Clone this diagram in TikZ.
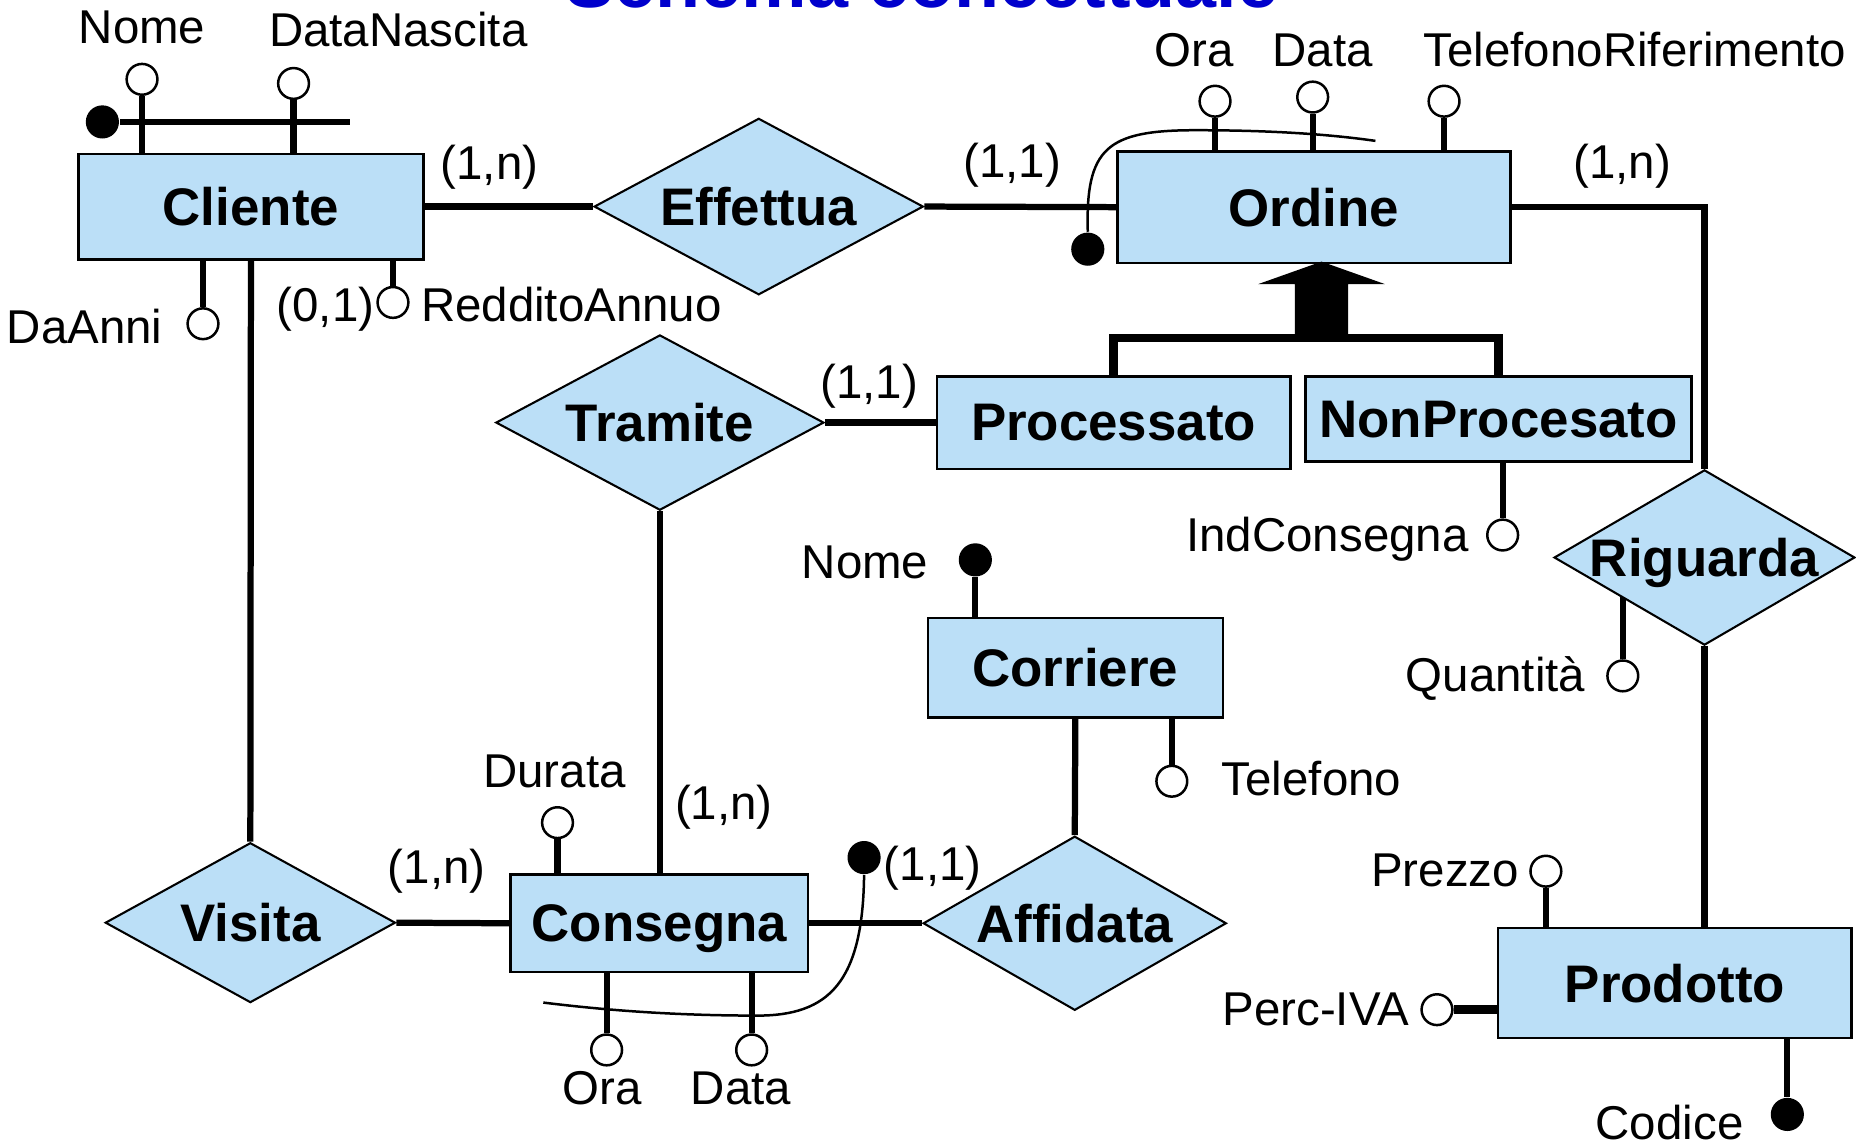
\documentclass[tikz,border=0pt]{standalone}
\usepackage{fontspec}
\setmainfont{Liberation Sans}
\usetikzlibrary{shapes.geometric,backgrounds}

\definecolor{erblue}{RGB}{187,223,247}
\definecolor{titleblue}{RGB}{0,0,204}
\newcommand{\lblfont}{\fontsize{11.4pt}{13pt}\selectfont}
\newcommand{\namefont}{\fontsize{12.7pt}{15pt}\selectfont\bfseries}
\newcommand{\titlefont}{\fontsize{17.7pt}{21pt}\selectfont\bfseries}

\tikzset{
    entity/.style={draw, line width=0.6pt, fill=erblue, font=\namefont, inner sep=0pt, text depth=0pt},
    rname/.style={font=\namefont, inner sep=0pt, text depth=0pt},
    relation/.style={diamond, draw, line width=0.5pt, fill=erblue, inner sep=0pt, label={[rname]center:#1}},
    attr/.style={circle, draw, line width=0.6pt, fill=white, minimum size=0.26cm, inner sep=0pt},
    keyattr/.style={circle, fill=black, minimum size=0.28cm, inner sep=0pt},
    conn/.style={line width=1.5pt},
    thickconn/.style={line width=2.1pt},
    genline/.style={line width=2.1pt},
    idcurve/.style={line width=0.6pt},
    lbl/.style={font=\lblfont, inner sep=0pt},
}

\begin{document}
\begin{tikzpicture}[x=0.01cm, y=-0.01cm]
    \useasboundingbox (0,0) rectangle (1568,969);

    \node[font=\titlefont, text=titleblue, inner sep=0pt, anchor=base] (title) at (779,6) {Schema concettuale};

    \node[entity, minimum width=2.915cm, minimum height=0.89cm] (cliente) at (212,174.5) {Cliente};
    \node[entity, minimum width=3.32cm, minimum height=0.94cm] (ordine) at (1110,175) {Ordine};
    \node[entity, minimum width=2.985cm, minimum height=0.78cm] (processato) at (940.75,357) {Processato};
    \node[entity, minimum width=3.26cm, minimum height=0.72cm] (nonprocesato) at (1266,354) {NonProcesato};
    \node[entity, minimum width=2.49cm, minimum height=0.84cm] (corriere) at (908.5,564) {Corriere};
    \node[entity, minimum width=2.51cm, minimum height=0.82cm] (consegna) at (557,780) {Consegna};
    \node[entity, minimum width=2.985cm, minimum height=0.93cm] (prodotto) at (1415,830.5) {Prodotto};

    \node[relation=Effettua, minimum width=2.78cm, minimum height=1.49cm] (effettua) at (641,174.5) {};
    \node[relation=Tramite, minimum width=2.77cm, minimum height=1.48cm] (tramite) at (557.5,357) {};
    \node[relation=Riguarda, minimum width=2.54cm, minimum height=1.48cm] (riguarda) at (1440,471) {};
    \node[relation=Affidata, minimum width=2.56cm, minimum height=1.47cm] (affidata) at (908,780) {};
    \node[relation=Visita, minimum width=2.45cm, minimum height=1.35cm] (visita) at (211.5,779.5) {};

    \node[attr] (nomecli) at (120,67) {};
    \node[attr] (datacli) at (248,70.5) {};
    \node[keyattr] (idcli) at (86.5,103) {};
    \coordinate (idcliend) at (296,103);
    \node[attr] (daanni) at (171.5,273.5) {};
    \node[attr] (reddito) at (332,255.5) {};
    \node[attr] (oraord) at (1026.5,85.5) {};
    \node[attr] (dataord) at (1109,82) {};
    \node[attr] (telrif) at (1220,85.5) {};
    \node[keyattr] (idord) at (919,210.5) {};
    \coordinate (idordend) at (1162,119);
    \node[attr] (indcons) at (1269.5,452) {};
    \node[attr] (quant) at (1371,571) {};
    \node[keyattr] (nomecorr) at (824,473) {};
    \node[attr] (telcorr) at (990,660) {};
    \node[attr] (durata) at (471,695) {};
    \node[attr] (oracons) at (512.5,887) {};
    \node[attr] (datacons) at (635,887) {};
    \node[keyattr] (idcons) at (730,724.5) {};
    \coordinate (idconsend) at (459,847);
    \node[attr] (prezzo) at (1306,736) {};
    \node[attr] (perciva) at (1214,853) {};
    \node[keyattr] (codice) at (1510,941.5) {};

    \node[lbl, anchor=base] (lnomecli) at (120,36.5) {Nome};
    \node[lbl, anchor=base] (ldatacli) at (336.5,39.5) {DataNascita};
    \node[lbl, anchor=base east] (ldaanni) at (138,290) {DaAnni};
    \node[lbl, anchor=base] (creddito) at (275,272) {(0,1)};
    \node[lbl, anchor=base west] (lreddito) at (355,272) {RedditoAnnuo};
    \node[lbl, anchor=base] (ceffcli) at (413.5,151.5) {(1,n)};
    \node[lbl, anchor=base] (cefford) at (855,150) {(1,1)};
    \node[lbl, anchor=base] (loraord) at (1009,56) {Ora};
    \node[lbl, anchor=base] (ldataord) at (1117.5,56) {Data};
    \node[lbl, anchor=base] (ltelrif) at (1381,56) {TelefonoRiferimento};
    \node[lbl, anchor=base] (crigord) at (1370.5,151) {(1,n)};
    \node[lbl, anchor=base] (ctrapro) at (734.5,337) {(1,1)};
    \node[lbl, anchor=base east] (lindcons) at (1241.5,466) {IndConsegna};
    \node[lbl, anchor=base east] (lnomecorr) at (785,488.5) {Nome};
    \node[lbl, anchor=base east] (lquant) at (1340,584.5) {Quantità};
    \node[lbl, anchor=base west] (ltelcorr) at (1031.5,672) {Telefono};
    \node[lbl, anchor=base] (ldurata) at (468.5,665) {Durata};
    \node[lbl, anchor=base] (ctracons) at (611.5,692) {(1,n)};
    \node[lbl, anchor=base] (cviscons) at (369,746) {(1,n)};
    \node[lbl, anchor=base] (caffcons) at (788,744) {(1,1)};
    \node[lbl, anchor=base east] (lprezzo) at (1284,749) {Prezzo};
    \node[lbl, anchor=base east] (lperciva) at (1191,866) {Perc-IVA};
    \node[lbl, anchor=base] (loracons) at (509,933.5) {Ora};
    \node[lbl, anchor=base] (ldatacons) at (626,933.5) {Data};
    \node[lbl, anchor=base] (lcodice) at (1410.5,963) {Codice};

    \begin{scope}[on background layer]
        \draw[conn] (quant) -- (quant |- riguarda.center);
    \end{scope}

    \draw[conn] (cliente.north -| nomecli) -- (nomecli);
    \draw[conn] (cliente.north -| datacli) -- (datacli);
    \draw[conn] (idcli) -- (idcliend);
    \draw[conn] (cliente.south -| daanni) -- (daanni);
    \draw[conn] (cliente.south -| reddito) -- (reddito);
    \draw[conn] (cliente.east) -- (effettua.west);
    \draw[conn] (effettua.east) -- (ordine.west);
    \draw[conn] (cliente.south) -- (visita.north);

    \draw[conn] (ordine.north -| oraord) -- (oraord);
    \draw[conn] (ordine.north -| dataord) -- (dataord);
    \draw[conn] (ordine.north -| telrif) -- (telrif);
    \draw[idcurve] (idord.north) .. controls (917,125) and (935,110) .. (1010,110)
        .. controls (1070,110) and (1120,113) .. (idordend);
    \draw[conn] (ordine.east) -| (riguarda.north);
    \draw[conn] (riguarda.south) -- (riguarda.south |- prodotto.north);

    \coordinate (isa) at (1116.5,285.5);
    \draw[genline] (processato.north) |- (isa) -| (nonprocesato.north);
    \fill (1094,286) -- (1094,240) -- (1063,240) -- (1116.5,221) -- (1170,240) -- (1139,240) -- (1139,286) -- cycle;

    \draw[conn] (tramite.east) -- (processato.west);
    \draw[conn] (tramite.south) -- (tramite.south |- consegna.north);
    \draw[conn] (nonprocesato.south -| indcons) -- (indcons);

    \draw[conn] (corriere.north -| nomecorr) -- (nomecorr);
    \draw[conn] (corriere.south -| telcorr) -- (telcorr);
    \draw[conn] (corriere.south) -- (affidata.north);

    \draw[conn] (visita.east) -- (consegna.west);
    \draw[conn] (consegna.east) -- (affidata.west);
    \draw[conn] (consegna.north -| durata) -- (durata);
    \draw[conn] (consegna.south -| oracons) -- (oracons);
    \draw[conn] (consegna.south -| datacons) -- (datacons);
    \draw[idcurve] (idcons.south) .. controls (729,830) and (700,858) .. (640,858)
        .. controls (560,858) and (500,852) .. (idconsend);

    \draw[conn] (prodotto.north -| prezzo) -- (prezzo);
    \draw[thickconn] (perciva) -- (perciva -| prodotto.west);
    \draw[conn] (prodotto.south -| codice) -- (codice);
\end{tikzpicture}
\end{document}
